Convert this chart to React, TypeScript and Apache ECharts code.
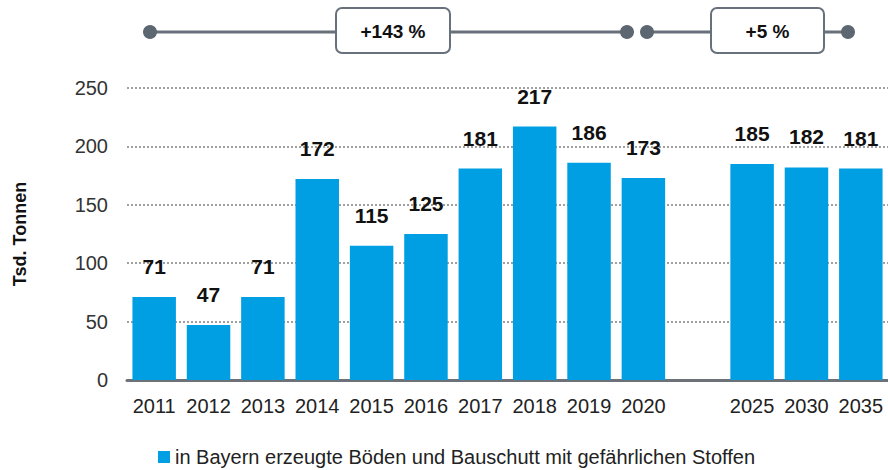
import React, { useEffect, useRef } from "react";
import * as echarts from "echarts";

const categories = ["2011", "2012", "2013", "2014", "2015", "2016", "2017", "2018", "2019", "2020", "", "2025", "2030", "2035"];
const values: (number | null)[] = [71, 47, 71, 172, 115, 125, 181, 217, 186, 173, null, 185, 182, 181];
const yTicks = { min: 0, max: 250, interval: 50 };
const seriesName = "in Bayern erzeugte Böden und Bauschutt mit gefährlichen Stoffen";
const changeLabels = ["+143 %", "+5 %"];

const BLUE = "#009FE3";
const GREY = "#68717b";
const FONT = "Liberation Sans, Arial, sans-serif";

export default function App() {
  const ref = useRef<HTMLDivElement>(null);
  useEffect(() => {
    if (!ref.current) return;
    const chart = echarts.init(ref.current, null, { renderer: "svg" });
    const lineY = 32;
    const circle = (x: number) => ({
      type: "circle",
      shape: { cx: x, cy: lineY, r: 7 },
      style: { fill: "#5d6772" },
      z: 12,
    });
    const box = (x1: number, x2: number, text: string) => [
      {
        type: "rect",
        z: 20,
        shape: { x: x1, y: 8, width: x2 - x1, height: 45, r: 6 },
        style: { fill: "#ffffff", stroke: GREY, lineWidth: 2 },
      },
      {
        type: "text",
        z: 21,
        x: (x1 + x2) / 2,
        y: 31,
        style: {
          text,
          fill: "#111",
          fontSize: 19,
          fontWeight: "bold",
          fontFamily: FONT,
          align: "center",
          verticalAlign: "middle",
        },
      },
    ];
    chart.setOption({
      animation: false,
      textStyle: { fontFamily: FONT },
      grid: { left: 127, width: 766, top: 88, bottom: 90, containLabel: false },
      legend: {
        data: [seriesName],
        left: 158,
        top: 446,
        icon: "rect",
        itemWidth: 12,
        itemHeight: 12,
        itemGap: 6,
        padding: 0,
        textStyle: { fontSize: 20, lineHeight: 22, color: "#222", fontFamily: FONT },
      },
      xAxis: {
        type: "category",
        data: categories,
        axisLine: { show: true, lineStyle: { color: "#6d7278", width: 3 } },
        axisTick: { show: false },
        axisLabel: { fontSize: 20, color: "#222", margin: 16, interval: 0 },
      },
      yAxis: {
        type: "value",
        min: yTicks.min,
        max: yTicks.max,
        interval: yTicks.interval,
        name: "Tsd. Tonnen",
        nameLocation: "middle",
        nameRotate: 90,
        nameGap: 98,
        nameTextStyle: { fontSize: 18, fontWeight: "bold", color: "#111" },
        axisLine: { show: false },
        axisTick: { show: false },
        axisLabel: { fontSize: 20, color: "#333", margin: 19 },
        splitLine: { lineStyle: { type: [2, 2], color: "#a0a0a0", width: 2 } },
      },
      series: [
        {
          name: seriesName,
          type: "bar",
          data: values,
          barCategoryGap: "20%",
          itemStyle: { color: BLUE },
          label: {
            show: true,
            position: "top",
            distance: 20,
            fontSize: 21,
            fontWeight: "bold",
            color: "#111",
          },
        },
      ],
      graphic: [
        {
          type: "line",
          shape: { x1: 150, y1: lineY, x2: 627, y2: lineY },
          style: { stroke: GREY, lineWidth: 3 },
          z: 10,
        },
        {
          type: "line",
          shape: { x1: 647, y1: lineY, x2: 848, y2: lineY },
          style: { stroke: GREY, lineWidth: 3 },
          z: 10,
        },
        circle(150),
        circle(627),
        circle(647),
        circle(848),
        ...box(336, 450, changeLabels[0]),
        ...box(711, 824, changeLabels[1]),
      ],
    });
    return () => chart.dispose();
  }, []);
  return <div ref={ref} style={{ width: 888, height: 470, position: "absolute", left: 0, top: 0 }} />;
}
